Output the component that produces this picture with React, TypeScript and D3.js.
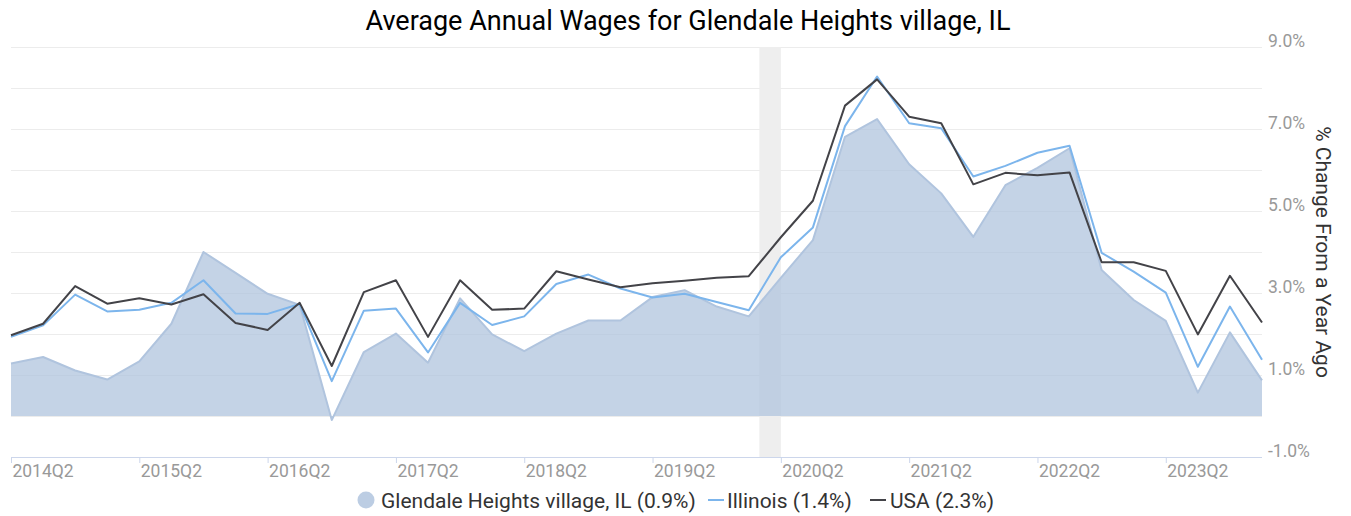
import React from "react";
import * as d3 from "d3";

const quarters = [
  "2014Q1","2014Q2","2014Q3","2014Q4","2015Q1","2015Q2","2015Q3","2015Q4",
  "2016Q1","2016Q2","2016Q3","2016Q4","2017Q1","2017Q2","2017Q3","2017Q4",
  "2018Q1","2018Q2","2018Q3","2018Q4","2019Q1","2019Q2","2019Q3","2019Q4",
  "2020Q1","2020Q2","2020Q3","2020Q4","2021Q1","2021Q2","2021Q3","2021Q4",
  "2022Q1","2022Q2","2022Q3","2022Q4","2023Q1","2023Q2","2023Q3","2023Q4",
];

const glendale = [
  1.28, 1.44, 1.11, 0.89, 1.33, 2.25, 4.0, 3.49, 2.98, 2.71,
  -0.1, 1.56, 2.01, 1.3, 2.87, 1.99, 1.58, 2.01, 2.33, 2.33,
  2.9, 3.07, 2.67, 2.43, 3.37, 4.29, 6.81, 7.24, 6.14, 5.43,
  4.37, 5.63, 6.05, 6.53, 3.56, 2.83, 2.32, 0.57, 2.04, 0.87,
];

const illinois = [
  1.93, 2.21, 2.96, 2.55, 2.59, 2.76, 3.31, 2.5, 2.49, 2.73,
  0.85, 2.57, 2.62, 1.55, 2.76, 2.22, 2.43, 3.22, 3.45, 3.11,
  2.89, 2.98, 2.78, 2.58, 3.87, 4.6, 7.07, 8.28, 7.14, 7.02,
  5.84, 6.1, 6.42, 6.59, 3.98, 3.52, 3.01, 1.2, 2.67, 1.37,
];

const usa = [
  1.97, 2.25, 3.17, 2.74, 2.87, 2.72, 2.97, 2.27, 2.1, 2.76,
  1.22, 3.02, 3.31, 1.93, 3.31, 2.59, 2.62, 3.53, 3.33, 3.14,
  3.24, 3.3, 3.37, 3.41, 4.36, 5.25, 7.57, 8.21, 7.3, 7.14,
  5.65, 5.93, 5.87, 5.94, 3.75, 3.75, 3.54, 1.99, 3.42, 2.28,
];

const xTickQuarters = ["2014Q1","2015Q1","2016Q1","2017Q1","2018Q1","2019Q1","2020Q1","2021Q1","2022Q1","2023Q1"];
const xLabels = ["2014Q2","2015Q2","2016Q2","2017Q2","2018Q2","2019Q2","2020Q2","2021Q2","2022Q2","2023Q2"];
const yGrid = [-1, 0, 1, 2, 3, 4, 5, 6, 7, 8, 9];
const yLabels = [-1, 1, 3, 5, 7, 9];
const recessionFrom = 23.33; // quarter index
const recessionTo = 24.0;

const title = "Average Annual Wages for Glendale Heights village, IL";
const yTitle = "% Change From a Year Ago";
const legendNames = ["Glendale Heights village, IL (0.9%)", "Illinois (1.4%)", "USA (2.3%)"];

const W = 1351, H = 516;
const FONT = "Roboto, 'Noto Sans', sans-serif";

export default function App() {
  const xi = d3.scaleLinear().domain([0, quarters.length - 1]).range([11, 1262]);
  const xq = (q: string) => xi(quarters.indexOf(q));
  const y = d3.scaleLinear().domain([-1, 9]).range([457, 47]);

  const area = d3.area<number>().x((_, i) => xi(i)).y0(y(0)).y1((d) => y(d));
  const areaTop = d3.line<number>().x((_, i) => xi(i)).y((d) => y(d));
  const line = d3.line<number>().x((_, i) => xi(i)).y((d) => y(d));

  return (
    <svg width={W} height={H} style={{ position: "absolute", left: 0, top: 0, fontFamily: FONT }}>
      <rect width={W} height={H} fill="#fff" />
      <text x={688} y={30} textAnchor="middle" fontSize={27} fill="#000">{title}</text>

      {yGrid.map((v) => (
        <line key={v} x1={11} x2={1262} y1={y(v) + 0.5} y2={y(v) + 0.5} stroke="#ececec" strokeWidth={1} />
      ))}

      <rect x={xi(recessionFrom)} y={47} width={xi(recessionTo) - xi(recessionFrom)} height={410} fill="#eeeeee" />

      <path d={area(glendale) || ""} fill="#b0c4de" fillOpacity={0.75} />
      <path d={areaTop(glendale) || ""} fill="none" stroke="#b0c4de" strokeWidth={2} strokeLinejoin="round" />
      <path d={line(illinois) || ""} fill="none" stroke="#7cb5ec" strokeWidth={2} strokeLinejoin="round" />
      <path d={line(usa) || ""} fill="none" stroke="#434348" strokeWidth={2} strokeLinejoin="round" />

      <line x1={11} x2={1262} y1={457.5} y2={457.5} stroke="#ccd6eb" strokeWidth={1} />
      {xTickQuarters.map((q) => (
        <line key={q} x1={xq(q) + 0.5} x2={xq(q) + 0.5} y1={457} y2={463} stroke="#ccd6eb" strokeWidth={1} />
      ))}
      {xLabels.map((q) => (
        <text key={q} x={xq(q)} y={476.5} textAnchor="middle" fontSize={17.5} fill="#999">{q}</text>
      ))}

      {yLabels.map((v) => (
        <text key={v} x={1268} y={y(v) - 0.5} fontSize={17.5} fill="#999">{v.toFixed(1) + "%"}</text>
      ))}

      <text transform="translate(1323,252) rotate(90)" textAnchor="middle" dy="0.35em" fontSize={21} fill="#333">{yTitle}</text>

      <circle cx={366} cy={500} r={8.5} fill="#b0c4de" fillOpacity={0.85} />
      <text x={381} y={507.5} fontSize={21} fill="#333">{legendNames[0]}</text>
      <line x1={708} x2={724} y1={500} y2={500} stroke="#7cb5ec" strokeWidth={2} />
      <text x={727} y={507.5} fontSize={21} fill="#333">{legendNames[1]}</text>
      <line x1={870} x2={886} y1={500} y2={500} stroke="#434348" strokeWidth={2} />
      <text x={890} y={507.5} fontSize={21} fill="#333">{legendNames[2]}</text>
    </svg>
  );
}
